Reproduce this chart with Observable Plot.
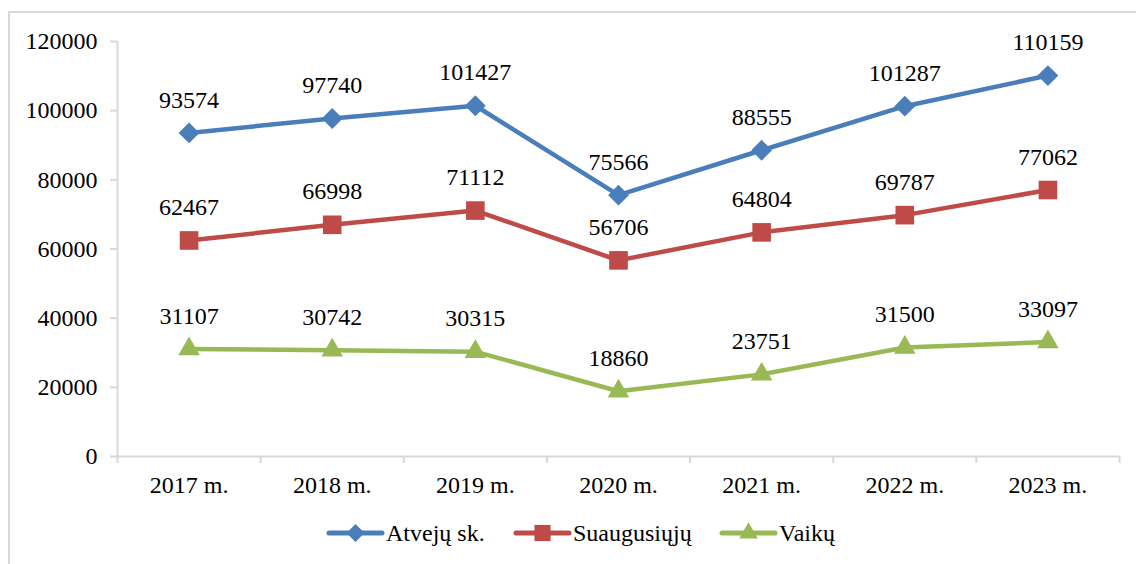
<!DOCTYPE html>
<html>
<head>
<meta charset="utf-8">
<script src="https://cdn.jsdelivr.net/npm/d3@7"></script>
<script src="https://cdn.jsdelivr.net/npm/@observablehq/plot@0.6"></script>
<style>
  html, body { margin: 0; padding: 0; background: #fff; }
  body { width: 1136px; height: 564px; position: relative; overflow: hidden; font-family: 'Liberation Serif', 'Times New Roman', serif; }
  #frame { position: absolute; left: 8px; top: 11px; width: 1200px; height: 600px; border: 2px solid #d9d9d9; box-sizing: border-box; }
  #chart { position: absolute; left: 0; top: 0; }
  #chart svg text { font-family: 'Liberation Serif', 'Times New Roman', serif; }
  #legend { position: absolute; left: 0; top: 518px; width: 1136px; height: 30px; }
  .item { position: absolute; top: 0; height: 30px; display: flex; align-items: center; font-size: 24px; color: #000; font-family: 'Liberation Serif', 'Times New Roman', serif; }
</style>
</head>
<body>
<div id="frame"></div>
<div id="chart"></div>
<div id="legend"></div>
<script>
const years = ["2017 m.", "2018 m.", "2019 m.", "2020 m.", "2021 m.", "2022 m.", "2023 m."];
const seriesNames = ["Atvejų sk.", "Suaugusiųjų", "Vaikų"];
const atvejuSk = [93574, 97740, 101427, 75566, 88555, 101287, 110159];
const suaugusiuju = [62467, 66998, 71112, 56706, 64804, 69787, 77062];
const vaiku = [31107, 30742, 30315, 18860, 23751, 31500, 33097];
const yTicks = [0, 20000, 40000, 60000, 80000, 100000, 120000];
const colors = ["#4a7ebb", "#be4b48", "#98b954"];

const diamond = {
  draw(context, size) {
    const h = Math.sqrt(size / 2);
    context.moveTo(0, -h); context.lineTo(h, 0); context.lineTo(0, h); context.lineTo(-h, 0); context.closePath();
  }
};
const square = {
  draw(context, size) {
    const h = Math.sqrt(size) / 2;
    context.rect(-h, -h, 2 * h, 2 * h);
  }
};
const triangle = {
  draw(context, size) {
    const s = Math.sqrt(size * 4 / Math.sqrt(3));
    const hgt = s * Math.sqrt(3) / 2;
    context.moveTo(0, -hgt * 2 / 3); context.lineTo(s / 2, hgt / 3); context.lineTo(-s / 2, hgt / 3); context.closePath();
  }
};
const symbols = [diamond, square, triangle];
const allValues = [atvejuSk, suaugusiuju, vaiku];

const rows = [];
allValues.forEach((vals, s) => vals.forEach((v, i) => rows.push({series: seriesNames[s], si: s, xi: i + 0.5, year: years[i], value: v})));

const font = "'Liberation Serif', 'Times New Roman', serif";
const FS = 24;
const marks = [
  Plot.axisY({ticks: yTicks, tickSize: 7, tickFormat: () => "", stroke: "#d9d9d9", strokeWidth: 2, label: null}),
  Plot.axisY({ticks: yTicks, tickSize: 0, tickPadding: 20, tickFormat: d => String(d), fontSize: FS, fill: "#000", label: null, fontFamily: font}),
  Plot.axisX({ticks: d3.range(0, 8), tickSize: 7, tickFormat: () => "", stroke: "#d9d9d9", strokeWidth: 2, label: null}),
  Plot.axisX({ticks: years.map((d, i) => i + 0.5), tickSize: 0, tickPadding: 19, tickFormat: d => years[Math.floor(d)], fontSize: FS, fill: "#000", label: null, fontFamily: font}),
  Plot.ruleX([0], {stroke: "#d9d9d9", strokeWidth: 2}),
  Plot.ruleY([0], {stroke: "#d9d9d9", strokeWidth: 2})
];
seriesNames.forEach((name, s) => {
  const d = rows.filter(r => r.si === s);
  marks.push(Plot.line(d, {x: "xi", y: "value", stroke: colors[s], strokeWidth: 4.5, strokeLinejoin: "round", strokeLinecap: "round"}));
});
const rs = [8.3, 10.5, 8];
seriesNames.forEach((name, s) => {
  const d = rows.filter(r => r.si === s);
  marks.push(Plot.dot(d, {x: "xi", y: "value", fill: colors[s], stroke: "none", symbol: symbols[s], r: rs[s]}));
});
marks.push(Plot.text(rows, {x: "xi", y: "value", text: d => String(d.value), dy: -33, fontSize: FS, fill: "#000", fontFamily: font}));

const chart = Plot.plot({
  width: 1136,
  height: 500,
  marginLeft: 117,
  marginRight: 17,
  marginTop: 41,
  marginBottom: 44,
  style: {fontFamily: font, background: "transparent", overflow: "visible"},
  x: {type: "linear", domain: [0, 7], axis: null, label: null},
  y: {type: "linear", domain: [0, 120000], axis: null, label: null},
  marks
});
document.getElementById("chart").appendChild(chart);

// legend
const legend = document.getElementById("legend");
const legendX = [326, 513, 719];
seriesNames.forEach((name, s) => {
  const item = document.createElement("div");
  item.className = "item";
  item.style.left = legendX[s] + "px";
  const sw = d3.create("svg").attr("width", 60).attr("height", 30);
  sw.append("line").attr("x1", 3).attr("x2", 56).attr("y1", 15).attr("y2", 15)
    .attr("stroke", colors[s]).attr("stroke-width", 5).attr("stroke-linecap", "round");
  sw.append("path").attr("transform", "translate(29.5,15)").attr("fill", colors[s])
    .attr("d", d3.symbol(symbols[s], Math.PI * rs[s] * rs[s] * 0.75)());
  item.appendChild(sw.node());
  const t = document.createElement("span");
  t.textContent = name;
  item.appendChild(t);
  legend.appendChild(item);
});
</script>
</body>
</html>
